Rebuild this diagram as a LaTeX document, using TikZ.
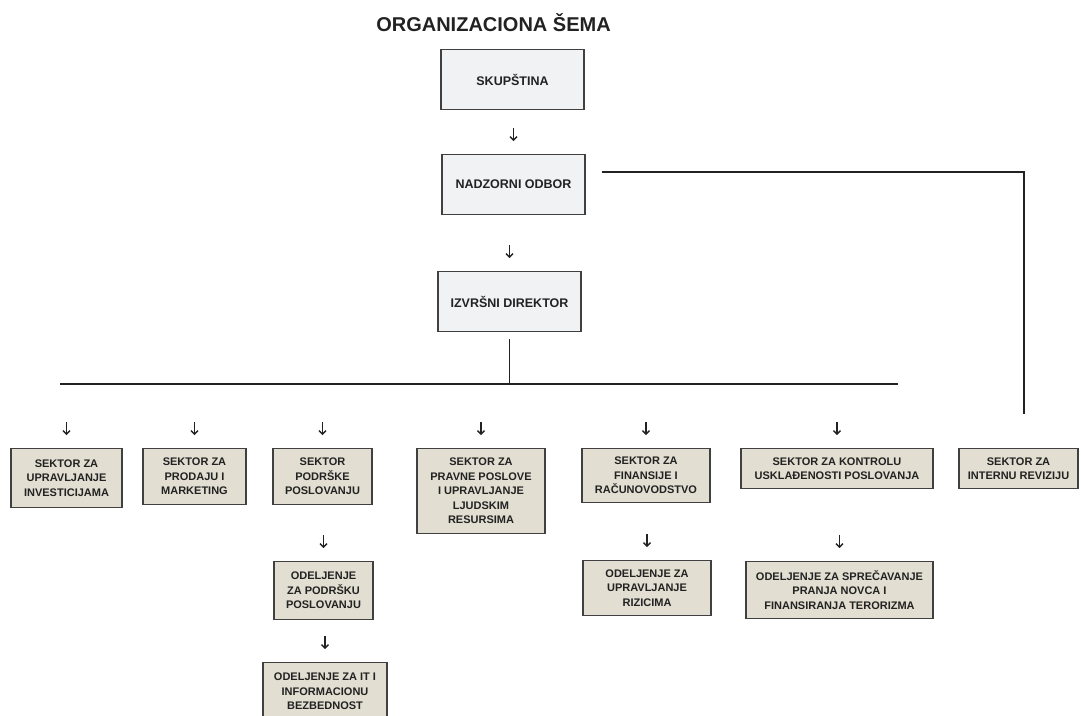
\documentclass[tikz,border=0pt]{standalone}
\usepackage{fontspec}
\setmainfont{Liberation Sans}
\usepackage{tikz}
\usetikzlibrary{arrows.meta,positioning,calc}
\definecolor{orgtop}{RGB}{241,242,244}
\definecolor{orgsand}{RGB}{226,222,209}
\definecolor{orgedge}{RGB}{64,64,64}
\definecolor{orgtext}{RGB}{34,34,34}

\begin{document}
\begin{tikzpicture}[x=1pt, y=-1pt,
    topbox/.style={draw=orgedge, line width=1.2pt, fill=orgtop, anchor=north,
        minimum width=143pt, minimum height=60pt, inner sep=0pt, align=center,
        text=orgtext, font=\bfseries\fontsize{12.5}{15}\selectfont},
    secbox/.style={topbox, fill=orgsand, font=\bfseries\fontsize{11}{14.5}\selectfont},
    darr/.style={-{Straight Barb[length=3.4pt,width=7pt]}, line width=1.4pt, orgtext},
    link/.style={line width=1.7pt, orgtext}]
    \useasboundingbox (0,0) rectangle (1081,715);

    % Title
    \node[font=\bfseries\fontsize{20}{24}\selectfont, text=orgtext] (title) at (493.5,22.5) {ORGANIZACIONA ŠEMA};

    % Management
    \node[topbox] (skup) at (512.5,49) {SKUPŠTINA};
    \node[topbox] (nadz) at (513.5,154) {NADZORNI ODBOR};
    \node[topbox] (izvr) at (509.5,271) {IZVRŠNI DIREKTOR};

    % Sectors
    \node[secbox, minimum width=111pt, minimum height=59pt] (invest) at (66.5,448) {SEKTOR ZA\\UPRAVLJANJE\\INVESTICIJAMA};
    \node[secbox, minimum width=103pt, minimum height=56pt] (prodaja) at (194.5,448) {SEKTOR ZA\\PRODAJU I\\MARKETING};
    \node[secbox, minimum width=99pt, minimum height=56pt] (podrska) at (322.5,448) {SEKTOR\\PODRŠKE\\POSLOVANJU};
    \node[secbox, minimum width=128pt, minimum height=85pt] (pravni) at (481,448) {SEKTOR ZA\\PRAVNE POSLOVE\\I UPRAVLJANJE\\LJUDSKIM\\RESURSIMA};
    \node[secbox, minimum width=128pt, minimum height=54pt] (finans) at (646,448) {SEKTOR ZA\\FINANSIJE I\\RAČUNOVODSTVO};
    \node[secbox, minimum width=192pt, minimum height=40pt] (kontrola) at (837,448) {SEKTOR ZA KONTROLU\\USKLAĐENOSTI POSLOVANJA};
    \node[secbox, minimum width=119pt, minimum height=40pt] (revizija) at (1018.5,448) {SEKTOR ZA\\INTERNU REVIZIJU};

    % Departments
    \node[secbox, minimum width=99pt, minimum height=58pt] (odpodrska) at (323.5,561) {ODELJENJE\\ZA PODRŠKU\\POSLOVANJU};
    \node[secbox, minimum width=124pt, minimum height=58pt] (odit) at (325,662) {ODELJENJE ZA IT I\\INFORMACIONU\\BEZBEDNOST};
    \node[secbox, minimum width=128pt, minimum height=55pt] (odrizik) at (647,560) {ODELJENJE ZA\\UPRAVLJANJE\\RIZICIMA};
    \node[secbox, minimum width=187pt, minimum height=57pt] (odpranje) at (839.5,561) {ODELJENJE ZA SPREČAVANJE\\PRANJA NOVCA I\\FINANSIRANJA TERORIZMA};

    % Arrows
    \foreach \n in {nadz,izvr,invest,prodaja,podrska,pravni,finans,kontrola,odpodrska,odit,odrizik,odpranje}
        \draw[darr] ([yshift=26pt]\n.north) -- ([yshift=13pt]\n.north);

    % Lines
    \coordinate (nadzout) at (602,172);
    \coordinate (revin) at (1024,414);
    \draw[link] (nadzout) -| (revin);
    \coordinate (busl) at (60,384);
    \coordinate (busr) at (898,384);
    \coordinate (busm) at (509.5,384);
    \draw[link] ([yshift=-7pt]izvr.south) -- (busm);
    \draw[link] (busl) -- (busr);
\end{tikzpicture}
\end{document}
